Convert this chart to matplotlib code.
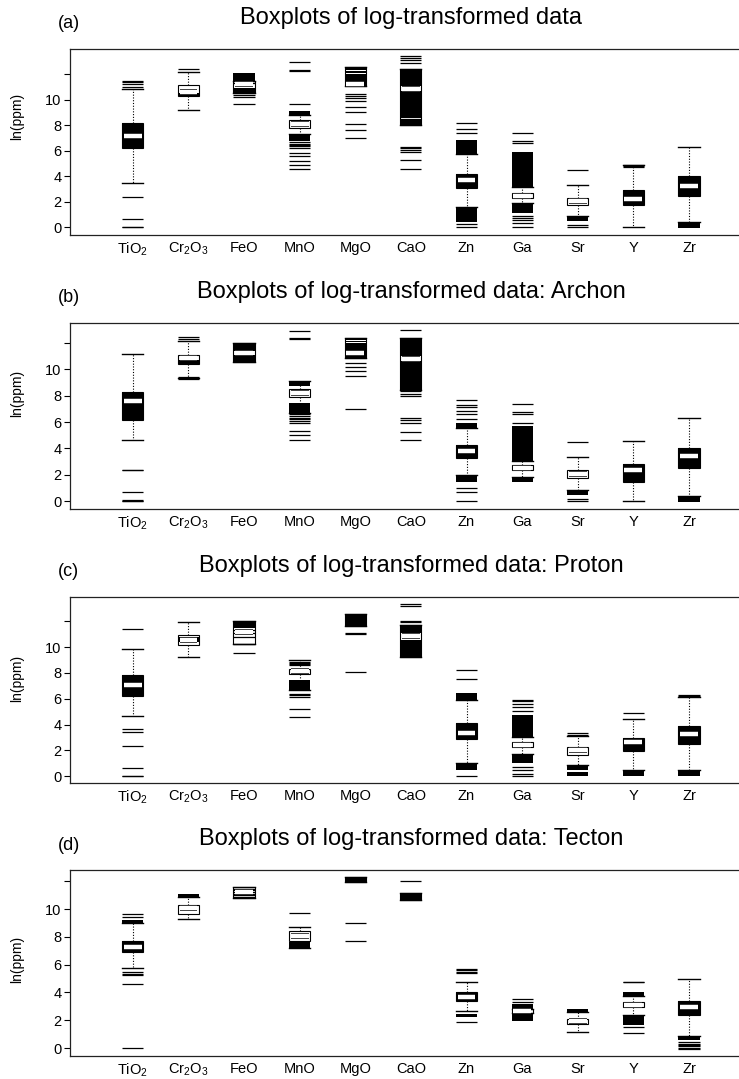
import numpy as np
import matplotlib
matplotlib.use("Agg")
import matplotlib.pyplot as plt
import matplotlib.patheffects as pe

plt.rcParams["font.family"] = ["Liberation Sans", "DejaVu Sans"]
plt.rcParams["mathtext.fontset"] = "custom"
plt.rcParams["mathtext.rm"] = "Liberation Sans"
plt.rcParams["mathtext.it"] = "Liberation Sans:italic"

CATEGORIES = [r"TiO$_\mathrm{2}$", r"Cr$_\mathrm{2}$O$_\mathrm{3}$", "FeO", "MnO", "MgO",
              "CaO", "Zn", "Ga", "Sr", "Y", "Zr"]
TITLES = ["Boxplots of log-transformed data",
          "Boxplots of log-transformed data: Archon",
          "Boxplots of log-transformed data: Proton",
          "Boxplots of log-transformed data: Tecton"]
TAGS = ["(a)", "(b)", "(c)", "(d)"]
YTICKS = [0, 2, 4, 6, 8, 10, 12]

# ── (a) all data ─────────────────────────────────────────────────────────
A_Q1 = [6.2, 10.26, 10.52, 7.8, 11.09, 8.0, 3.1, 2.27, 1.76, 1.73, 2.5]
A_MED = [7.2, 10.6, 11.2, 8.09, 11.24, 10.88, 3.75, 2.5, 2.04, 2.25, 3.28]
A_Q3 = [8.19, 11.14, 11.5, 8.4, 12.56, 12.45, 4.21, 2.71, 2.33, 2.92, 4.0]
A_LO = [3.49, 9.22, 10.52, 7.36, 11.09, 8.0, 1.63, 1.89, 0.9, 0.0, 0.39]
A_HI = [10.85, 12.2, 11.5, 8.8, 12.56, 12.45, 5.76, 3.18, 3.36, 4.86, 6.28]
A_BANDS = [[(6.2, 8.19)], [(10.3, 10.55)], [(11.5, 12.12), (10.52, 10.93)],
           [(8.8, 9.1), (6.8, 7.36)], [(12.32, 12.56), (12.1, 12.28), (11.09, 12.05)],
           [(11.05, 12.45), (8.6, 10.7), (8.0, 8.4)],
           [(3.1, 4.21), (5.76, 6.85), (0.44, 1.63)], [(3.18, 5.94), (1.11, 1.89)],
           [(0.49, 0.9)], [(1.73, 2.92)], [(2.5, 4.0), (-0.05, 0.39)]]
A_LINES = [[11.5, 11.37, 11.2, 11.03, 2.38, 0.7, 0.05, 0.0],
           [12.45],
           [11.32, 10.34, 10.2, 9.64],
           [12.97, 12.36, 12.28, 9.66, 6.7, 6.55, 6.45, 6.35, 6.2, 5.81, 5.56,
            5.17, 4.86, 4.57],
           [10.49, 10.3, 10.13, 9.87, 9.46, 9.02, 8.14, 7.65, 7.03],
           [13.44, 13.26, 13.1, 12.92, 8.5, 6.33, 6.2, 6.07, 5.94, 5.3, 4.57],
           [8.19, 7.75, 7.42, 0.26, 0.0],
           [7.42, 6.8, 6.59, 0.9, 0.78, 0.59, 0.34, 0.0],
           [4.47, 0.23, 0.0],
           [4.75, 4.8, 4.9],
           []]

# ── (b) Archon ───────────────────────────────────────────────────────────
B_Q1 = [6.19, 10.38, 10.5, 7.87, 10.8, 8.45, 3.31, 2.36, 1.78, 1.5, 2.56]
B_MED = [7.6, 10.8, 11.2, 8.17, 11.2, 10.78, 3.81, 2.55, 2.1, 2.36, 3.43]
B_Q3 = [8.3, 11.1, 12.0, 8.5, 12.35, 12.38, 4.24, 2.73, 2.38, 2.86, 4.06]
B_LO = [4.64, 9.3, 10.5, 6.69, 10.8, 8.45, 2.0, 1.88, 0.88, 0.0, 0.43]
B_HI = [11.15, 12.13, 12.0, 9.07, 12.35, 12.38, 5.56, 3.06, 3.38, 4.56, 6.27]
B_BANDS = [[(6.19, 8.3)], [(10.4, 10.65)], [(11.35, 12.0), (10.5, 11.05)],
           [(8.7, 9.07), (6.69, 7.44)], [(12.22, 12.35), (12.04, 12.14), (10.8, 11.95)],
           [(10.95, 12.38), (8.45, 10.62)],
           [(3.31, 4.24), (5.56, 5.94), (1.5, 2.0)], [(3.06, 5.69), (1.5, 1.88)],
           [(0.5, 0.88)], [(1.5, 2.86)], [(2.56, 4.06), (-0.05, 0.43)]]
B_LINES = [[2.4, 2.36, 0.68, 0.1, 0.03, 0.0],
           [12.46, 12.28, 9.4, 9.25],
           [],
           [12.9, 12.33, 12.25, 6.6, 6.45, 6.3, 6.2, 6.05, 5.9, 5.31, 5.0, 4.64],
           [10.43, 10.17, 9.87, 9.47, 6.97],
           [12.96, 8.32, 8.15, 7.94, 6.32, 6.14, 5.94, 5.24, 4.61],
           [7.69, 7.32, 7.14, 6.82, 6.64, 6.2, 1.05, 0.73, 0.0],
           [7.39, 6.77, 6.57, 5.9],
           [4.49, 0.18, 0.0],
           [],
           []]

# ── (c) Proton ───────────────────────────────────────────────────────────
C_Q1 = [6.19, 10.13, 10.26, 7.94, 11.63, 9.23, 2.84, 2.27, 1.62, 1.93, 2.47]
C_MED = [7.04, 10.57, 11.2, 8.12, None, 10.85, 3.38, 2.45, 2.0, 2.65, 3.3]
C_Q3 = [7.81, 10.95, 12.0, 8.32, 12.53, 11.68, 4.12, 2.65, 2.22, 2.99, 3.89]
C_LO = [4.66, 9.23, 10.26, 6.7, 11.63, 9.23, 1.03, 1.75, 0.85, 0.46, 0.46]
C_HI = [9.82, 11.93, 12.0, 8.97, 12.53, 11.68, 5.93, 3.04, 3.09, 4.46, 6.13]
C_BANDS = [[(6.19, 7.81)], [(10.4, 10.78)], [(11.5, 12.0)], [(6.7, 7.42)],
           [(11.63, 12.53)], [(11.08, 11.68), (9.23, 10.52)],
           [(2.84, 4.12), (5.93, 6.47), (0.46, 1.03)], [(3.04, 4.72), (0.98, 1.75)],
           [(0.45, 0.85), (0.0, 0.3)], [(1.93, 2.99), (0.0, 0.46)],
           [(2.47, 3.89), (0.0, 0.46)]]
C_LINES = [[11.42, 3.69, 3.43, 2.35, 0.59, 0.03, 0.0],
           [],
           [11.29, 11.08, 10.77, 10.26, 9.56],
           [8.87, 8.78, 8.68, 8.58, 6.4, 6.3, 6.13, 5.23, 4.59],
           [11.06, 10.98, 8.07],
           [13.35, 13.17, 12.06, 11.93],
           [8.2, 7.55, 0.0],
           [5.93, 5.85, 5.62, 5.36, 5.05, 0.72, 0.46, 0.2, 0.0],
           [3.35, 3.2],
           [4.9],
           [6.31, 6.22]]

# ── (d) Tecton ───────────────────────────────────────────────────────────
D_Q1 = [6.9, 9.67, 10.79, 7.69, 11.95, 10.62, 3.4, 2.52, 1.74, 2.93, 2.38]
D_MED = [7.29, 10.07, 11.19, 8.05, None, None, 3.69, 2.66, 1.95, 3.1, 2.93]
D_Q3 = [7.69, 10.31, 11.55, 8.4, 12.31, 11.14, 4.05, 2.81, 2.1, 3.33, 3.4]
D_LO = [5.79, 9.29, 10.79, 7.21, 11.95, 10.62, 2.69, 2.52, 1.19, 2.4, 0.9]
D_HI = [9.0, 10.86, 11.55, 8.71, 12.31, 11.14, 4.79, 2.81, 2.57, 3.76, 5.0]
D_BANDS = [[(6.9, 7.69), (9.0, 9.24)], [(10.86, 11.1)], [], [(7.21, 7.62)],
           [(11.95, 12.31)], [(10.62, 11.14)],
           [(3.4, 4.05), (2.21, 2.45)], [(2.81, 3.17), (1.98, 2.45)],
           [(2.57, 2.81)], [(3.76, 4.05), (1.67, 2.4)],
           [(2.38, 3.4), (0.55, 0.9)]]
D_LINES = [[9.64, 9.43, 5.48, 5.35, 5.26, 4.6, 0.0],
           [],
           [11.45, 11.35, 11.25, 11.1, 11.0, 10.9],
           [9.71],
           [9.02, 7.71],
           [11.98],
           [5.71, 5.62, 5.5, 5.38, 1.9],
           [3.52, 3.3],
           [],
           [4.79, 4.75, 1.5, 1.1],
           [0.43, 0.33, 0.23, 0.13, 0.03, -0.07]]

PANELS = [
    (A_Q1, A_MED, A_Q3, A_LO, A_HI, A_BANDS, A_LINES),
    (B_Q1, B_MED, B_Q3, B_LO, B_HI, B_BANDS, B_LINES),
    (C_Q1, C_MED, C_Q3, C_LO, C_HI, C_BANDS, C_LINES),
    (D_Q1, D_MED, D_Q3, D_LO, D_HI, D_BANDS, D_LINES),
]

W, H = 739, 1079
BOX_W = 0.38
# axes top / bottom in pixels, per panel
AX_PX = [(49, 235), (323, 509), (597, 783), (870, 1056)]
YLAB_Y = [0.64, 0.62, 0.56, 0.52]
AX_LEFT = 70


def draw_panel(ax, q1, med, q3, lo, hi, bands, lines):
    pos = np.arange(1, len(CATEGORIES) + 1)
    stats = [dict(q1=a, med=(m if m is not None else a), q3=b, whislo=l, whishi=h, fliers=[])
             for a, m, b, l, h in zip(q1, med, q3, lo, hi)]
    ax.bxp(stats, positions=pos, widths=BOX_W, capwidths=BOX_W, patch_artist=True,
           showfliers=False,
           boxprops=dict(facecolor="white", edgecolor="black", linewidth=0.8),
           whiskerprops=dict(color="black", linewidth=0.8, linestyle=(0, (1, 1.5))),
           capprops=dict(color="black", linewidth=1.0),
           medianprops=dict(linewidth=0))
    for p, bl in zip(pos, bands):
        for b_lo, b_hi in bl:
            ax.bar(p, b_hi - b_lo, bottom=b_lo, width=BOX_W, color="black",
                   linewidth=0, zorder=3)
    for p, vals in zip(pos, lines):
        if vals:
            ax.hlines(vals, p - BOX_W / 2, p + BOX_W / 2, color="black",
                      linewidth=0.9, zorder=3)
    for p, m in zip(pos, med):
        if m is not None:
            ax.hlines(m, p - BOX_W * 0.42, p + BOX_W * 0.42, color="white",
                      linewidth=3.2, zorder=4,
                      path_effects=[pe.Stroke(linewidth=4.2, foreground="black"),
                                    pe.Normal()])

    # R-style range: data range extended by 4 %
    allv = list(lo) + list(hi) + [v for vs in lines for v in vs] + \
        [v for bl in bands for pair in bl for v in pair]
    vmin, vmax = min(allv), max(allv)
    r = vmax - vmin
    ax.set_ylim(vmin - 0.04 * r, vmax + 0.04 * r)
    ax.set_xlim(-0.13, 11.9)

    ax.set_xticks(pos)
    ax.set_xticklabels(CATEGORIES, fontsize=10.5)
    ax.set_yticks(YTICKS)
    ax.set_yticklabels([str(t) if t < 12 else "" for t in YTICKS], fontsize=10.5)
    ax.tick_params(axis="x", length=0, pad=4)
    ax.tick_params(axis="y", direction="out", length=4, width=0.8, pad=2)
    ax.spines["right"].set_visible(False)
    for s in ("left", "top", "bottom"):
        ax.spines[s].set_linewidth(0.9)
        ax.spines[s].set_color("#222222")


fig = plt.figure(figsize=(W / 100, H / 100), dpi=100)
for i, (data, (top, bot)) in enumerate(zip(PANELS, AX_PX)):
    ax = fig.add_axes([AX_LEFT / W, 1 - bot / H, 1 - AX_LEFT / W, (bot - top) / H])
    draw_panel(ax, *data)
    ax.set_ylabel("ln(ppm)", fontsize=10)
    ax.yaxis.set_label_coords(-46 / (W - AX_LEFT), YLAB_Y[i])
    ax.annotate(TITLES[i], xy=(0.51, 1), xycoords="axes fraction",
                xytext=(0, 22), textcoords="offset points",
                ha="center", va="center", fontsize=17)
    ax.annotate(TAGS[i], xy=(0.0, 1), xycoords="axes fraction",
                xytext=(-1, 18), textcoords="offset points",
                ha="center", va="center", fontsize=13)

fig.savefig("out.png", dpi=100, facecolor="white")
